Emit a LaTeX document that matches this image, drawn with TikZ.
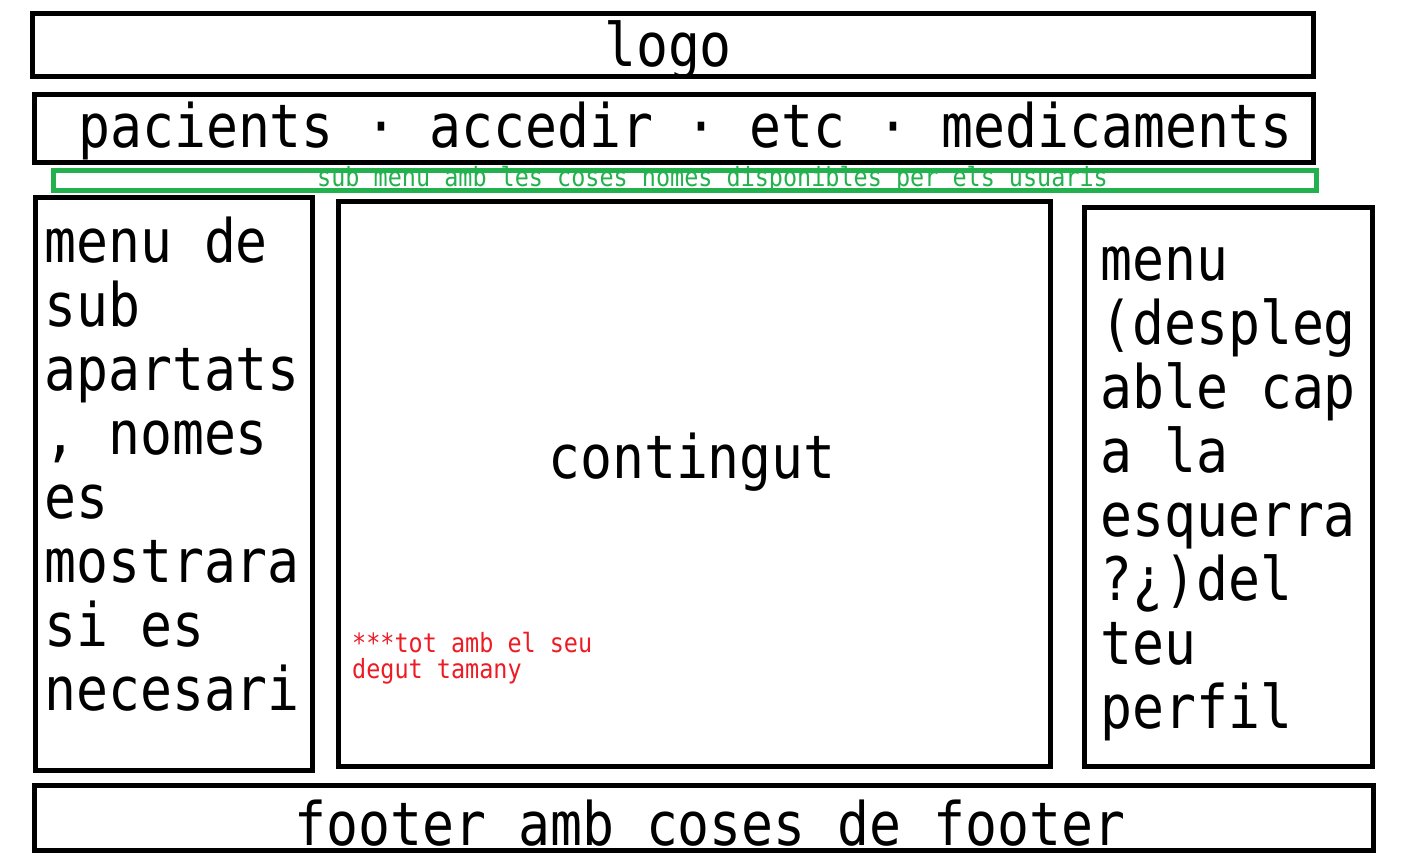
\documentclass[tikz,border=0pt]{standalone}
\usepackage{fontspec}
\setmonofont[FakeStretch=0.885]{DejaVu Sans Mono}
\usetikzlibrary{positioning}
\definecolor{paintgreen}{RGB}{34,177,76}
\definecolor{paintred}{RGB}{237,28,36}
\tikzset{
	wirebox/.style  = {shape=rectangle, draw=black, line width=5pt,
		inner sep=0pt, outer sep=0pt},
	subbox/.style   = {wirebox, draw=paintgreen},
	bigtext/.style  = {inner sep=0pt, font=\ttfamily\fontsize{60}{64}\selectfont},
	fixspace/.style = {execute at begin node={\spaceskip=\fontdimen2\font
		\xspaceskip=\fontdimen2\font\relax}},
	blocktext/.style = {bigtext, fixspace, text width=300pt, align=left, anchor=base west},
	smalltext/.style = {inner sep=0pt, font=\ttfamily\fontsize{26.5}{26}\selectfont}
}

\begin{document}
\begin{tikzpicture}[x=1pt, y=-1pt]
	\useasboundingbox (0,0) rectangle (1402,863);
	% boxes of the page
	\node[wirebox, minimum width=1281pt, minimum height=63pt] (logo) at (672.5,44.5) {};
	\node[wirebox, minimum width=1279pt, minimum height=68pt] (nav) at (674,128.5) {};
	\node[subbox, minimum width=1263pt, minimum height=19.5pt] (submenu) at (685,180.25) {};
	\node[wirebox, minimum width=277pt, minimum height=573pt] (leftmenu) at (174,484) {};
	\node[wirebox, minimum width=711.5pt, minimum height=565pt] (content) at (694.25,484) {};
	\node[wirebox, minimum width=288pt, minimum height=559pt] (rightmenu) at (1228.5,487) {};
	\node[wirebox, minimum width=1339pt, minimum height=65pt] (footer) at (704,818) {};
	% texts
	\node[bigtext, anchor=base] (logotext) at (668,66) {logo};
	\node[bigtext, anchor=base west] (navtext) at (78,147)
		{pacients · accedir · etc · medicaments};
	\node[smalltext, text=paintgreen, anchor=base west] (subtext) at (317,186)
		{sub menu amb les coses nomes disponibles per els usuaris};
	\node[blocktext] (lefttext) at (44,262)
		{menu de\\sub\\apartats\\, nomes\\es\\mostrara\\si es\\necesari};
	\node[bigtext, anchor=base] (contenttext) at (692,478) {contingut};
	\node[smalltext, fixspace, text=paintred, text width=300pt, align=left, anchor=base west]
		(notetext) at (352,652) {***tot amb el seu\\degut tamany};
	\node[blocktext] (righttext) at (1100,280)
		{menu\\(despleg\\able cap\\a la\\esquerra\\?¿)del\\teu\\perfil};
	\node[bigtext, anchor=base] (footertext) at (710,845)
		{footer amb coses de footer};
\end{tikzpicture}
\end{document}
